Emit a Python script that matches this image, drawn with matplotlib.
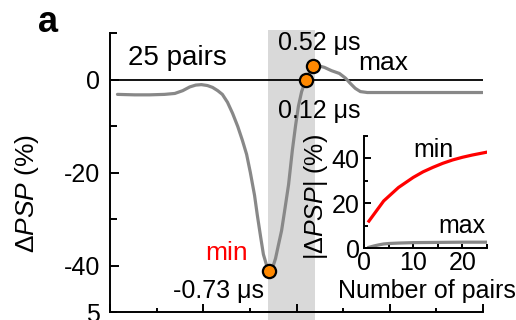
import matplotlib
matplotlib.use("Agg")
import matplotlib.pyplot as plt
from matplotlib.ticker import MultipleLocator
from matplotlib.patches import Rectangle

plt.rcParams['font.family'] = ['Liberation Sans', 'DejaVu Sans']
plt.rcParams['mathtext.fontset'] = 'custom'
plt.rcParams['mathtext.rm'] = 'Liberation Sans'
plt.rcParams['mathtext.it'] = 'Liberation Sans:italic'
plt.rcParams['axes.unicode_minus'] = False

# main trace (25 pairs), delta PSP in %
dt = [-3.84, -3.47, -3.15, -2.83, -2.61, -2.44, -2.29, -2.16, -2.04, -1.91,
      -1.80, -1.69, -1.59, -1.48, -1.37, -1.26, -1.16, -1.07, -0.99, -0.90,
      -0.84, -0.77, -0.71, -0.64, -0.58, -0.51, -0.45, -0.39, -0.32, -0.26,
      -0.17, -0.09, -0.02, 0.04, 0.11, 0.17, 0.21, 0.28, 0.36, 0.45,
      0.60, 0.75, 0.92, 1.05, 1.16, 1.26, 1.37, 1.52, 2.21, 3.06, 3.99]
dpsp = [-3.2, -3.3, -3.3, -3.2, -3.0, -2.4, -1.6, -1.2, -1.1, -1.3,
        -1.7, -2.4, -3.2, -4.9, -7.3, -10.1, -13.1, -16.1, -20.0, -24.9,
        -29.2, -33.8, -37.6, -40.0, -41.1, -40.4, -38.5, -35.7, -32.5, -28.6,
        -22.6, -15.3, -9.9, -5.8, -2.6, -0.9, 0.0, 1.5, 3.0, 3.0,
        2.6, 1.9, 1.3, 0.3, -0.9, -1.9, -2.6, -2.8, -2.8, -2.8, -2.8]

# marked points: min, zero crossing, max
mark_x = [-0.58, 0.21, 0.36]
mark_y = [-41.1, 0.0, 3.0]
shade = (-0.62, 0.39)

# inset: |dPSP| vs number of pairs
pairs_min = [1, 2, 3, 4, 5, 6, 7, 8, 9, 10, 12, 14, 16, 18, 20, 22, 25]
val_min = [12, 15, 18, 21, 23, 25, 27, 28.5, 30, 31.5, 34, 36, 37.8, 39.3, 40.5, 41.5, 42.8]
pairs_max = [1, 2, 3, 4, 5, 7, 10, 15, 20, 25]
val_max = [0.3, 0.9, 1.4, 1.8, 2.0, 2.2, 2.4, 2.5, 2.6, 2.6]

W, H = 516, 320
fig = plt.figure(figsize=(W / 100, H / 100), dpi=100)

def fx(px):
    return px / W

def fy(py):
    return 1 - py / H

ax = fig.add_axes([fx(110), fy(312), (483 - 110) / W, (312 - 33) / H])
ax.set_xlim(-4, 4)
ax.set_ylim(-50, 10)
ax.add_patch(Rectangle((shade[0], -53), shade[1] - shade[0], 63.6,
                       color='#d9d9d9', lw=0, clip_on=False, zorder=0))
ax.axhline(0, color='black', lw=1.3, zorder=1)
ax.plot(dt, dpsp, color='#888888', lw=2.3, solid_capstyle='round', zorder=2)
ax.plot(mark_x, mark_y, 'o', ms=9.5, mfc='#ff8800', mec='black', mew=1.6, zorder=3)

for s in ['top', 'right']:
    ax.spines[s].set_visible(False)
for s in ['left', 'bottom']:
    ax.spines[s].set_linewidth(1.4)
ax.set_yticks([0, -20, -40])
ax.yaxis.set_minor_locator(MultipleLocator(10))
ax.xaxis.set_major_locator(MultipleLocator(2))
ax.xaxis.set_minor_locator(MultipleLocator(1))
ax.tick_params(which='both', direction='in', width=1.4, labelsize=18, pad=7)
ax.tick_params(axis='y', which='major', length=6.5)
ax.tick_params(axis='y', which='minor', length=5)
ax.tick_params(axis='x', which='major', length=6)
ax.tick_params(axis='x', which='minor', length=3)
ax.tick_params(axis='x', which='both', labelbottom=False)

fig.text(fx(27), fy(193), r'$\Delta\mathit{PSP}$ (%)', rotation=90,
         ha='center', va='center', fontsize=19)
fig.text(fx(38), fy(32), 'a', fontsize=26, fontweight='bold', ha='left', va='baseline')
fig.text(fx(128), fy(65), '25 pairs', fontsize=20, ha='left', va='baseline')
fig.text(fx(278), fy(50), '0.52 \u03bcs', fontsize=18, ha='left', va='baseline')
fig.text(fx(358), fy(70), 'max', fontsize=19, ha='left', va='baseline')
fig.text(fx(278), fy(118), '0.12 \u03bcs', fontsize=18, ha='left', va='baseline')
fig.text(fx(205), fy(260), 'min', fontsize=19, color='red', ha='left', va='baseline')
fig.text(fx(173), fy(298), '-0.73 \u03bcs', fontsize=18, ha='left', va='baseline')
fig.text(fx(100), fy(322), '5', fontsize=18, ha='right', va='baseline')

# inset
ins = fig.add_axes([fx(364), fy(248), (487 - 364) / W, (248 - 136) / H])
ins.set_xlim(0, 25)
ins.set_ylim(0, 50)
ins.plot(pairs_min, val_min, color='red', lw=2.3)
ins.plot(pairs_max, val_max, color='#888888', lw=2.3)
for s in ['top', 'right']:
    ins.spines[s].set_visible(False)
for s in ['left', 'bottom']:
    ins.spines[s].set_linewidth(1.4)
ins.set_xticks([0, 10, 20])
ins.xaxis.set_minor_locator(MultipleLocator(5))
ins.set_yticks([0, 20, 40])
ins.yaxis.set_minor_locator(MultipleLocator(10))
ins.tick_params(which='both', direction='in', width=1.4, labelsize=18)
ins.tick_params(axis='y', which='major', length=5, pad=3)
ins.tick_params(axis='y', which='minor', length=3)
ins.tick_params(axis='x', which='both', length=3, pad=2)
ins.patch.set_alpha(0)
fig.text(fx(316), fy(197), r'|$\Delta\mathit{PSP}$| (%)', rotation=90,
         ha='center', va='center', fontsize=18)
fig.text(fx(338), fy(298), 'Number of pairs', fontsize=18, ha='left', va='baseline')
fig.text(fx(413), fy(157), 'min', fontsize=18, ha='left', va='baseline')
fig.text(fx(438), fy(233), 'max', fontsize=18, ha='left', va='baseline')

fig.savefig('out.png', dpi=100)
